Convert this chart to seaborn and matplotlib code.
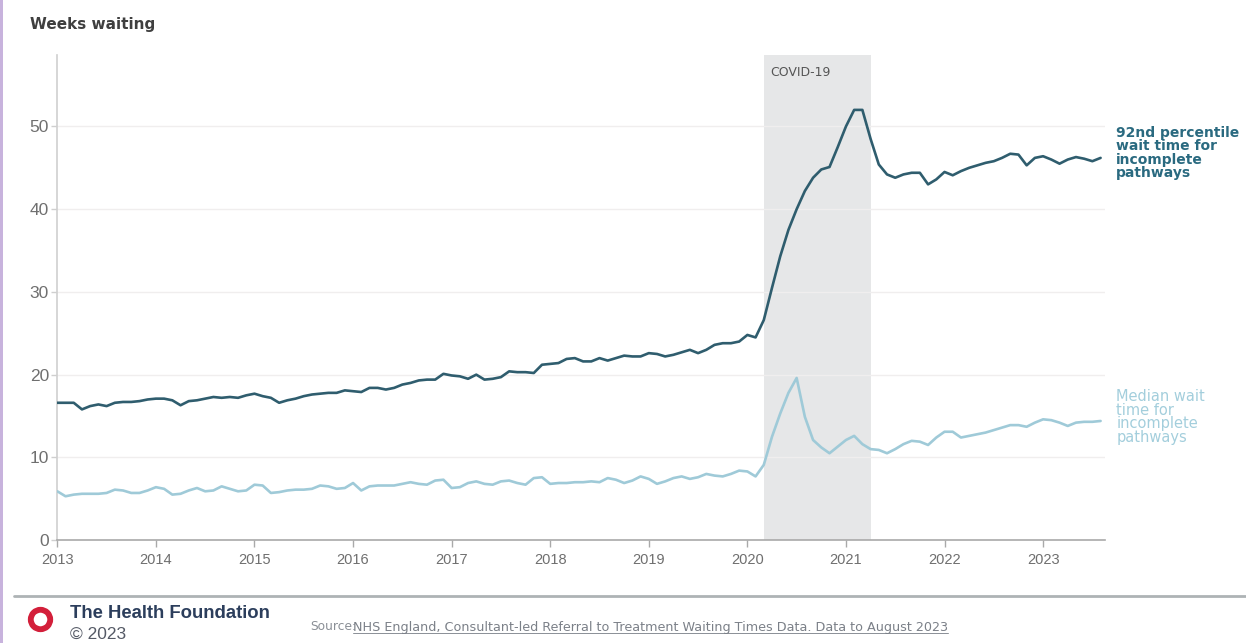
import numpy as np
import pandas as pd
import matplotlib
matplotlib.use("Agg")
import matplotlib.pyplot as plt
import seaborn as sns
from matplotlib.patches import Rectangle

# ---- data: monthly, Jan 2013 .. Aug 2023 ----
start_year = 2013
p92_weeks = [
    16.6, 16.6, 16.6, 15.8, 16.2, 16.4, 16.2, 16.6, 16.7, 16.7, 16.8, 17.0,   # 2013
    17.1, 17.1, 16.9, 16.3, 16.8, 16.9, 17.1, 17.3, 17.2, 17.3, 17.2, 17.5,   # 2014
    17.7, 17.4, 17.2, 16.6, 16.9, 17.1, 17.4, 17.6, 17.7, 17.8, 17.8, 18.1,   # 2015
    18.0, 17.9, 18.4, 18.4, 18.2, 18.4, 18.8, 19.0, 19.3, 19.4, 19.4, 20.1,   # 2016
    19.9, 19.8, 19.5, 20.0, 19.4, 19.5, 19.7, 20.4, 20.3, 20.3, 20.2, 21.2,   # 2017
    21.3, 21.4, 21.9, 22.0, 21.6, 21.6, 22.0, 21.7, 22.0, 22.3, 22.2, 22.2,   # 2018
    22.6, 22.5, 22.2, 22.4, 22.7, 23.0, 22.6, 23.0, 23.6, 23.8, 23.8, 24.0,   # 2019
    24.8, 24.5, 26.6, 30.5, 34.3, 37.5, 40.0, 42.2, 43.8, 44.8, 45.1, 47.5,   # 2020
    50.0, 52.0, 52.0, 48.5, 45.4, 44.2, 43.8, 44.2, 44.4, 44.4, 43.0, 43.6,   # 2021
    44.5, 44.1, 44.6, 45.0, 45.3, 45.6, 45.8, 46.2, 46.7, 46.6, 45.3, 46.2,   # 2022
    46.4, 46.0, 45.5, 46.0, 46.3, 46.1, 45.8, 46.2,                           # 2023
]
median_weeks = [
    5.9, 5.3, 5.5, 5.6, 5.6, 5.6, 5.7, 6.1, 6.0, 5.7, 5.7, 6.0,   # 2013
    6.4, 6.2, 5.5, 5.6, 6.0, 6.3, 5.9, 6.0, 6.5, 6.2, 5.9, 6.0,   # 2014
    6.7, 6.6, 5.7, 5.8, 6.0, 6.1, 6.1, 6.2, 6.6, 6.5, 6.2, 6.3,   # 2015
    6.9, 6.0, 6.5, 6.6, 6.6, 6.6, 6.8, 7.0, 6.8, 6.7, 7.2, 7.3,   # 2016
    6.3, 6.4, 6.9, 7.1, 6.8, 6.7, 7.1, 7.2, 6.9, 6.7, 7.5, 7.6,   # 2017
    6.8, 6.9, 6.9, 7.0, 7.0, 7.1, 7.0, 7.5, 7.3, 6.9, 7.2, 7.7,   # 2018
    7.4, 6.8, 7.1, 7.5, 7.7, 7.4, 7.6, 8.0, 7.8, 7.7, 8.0, 8.4,   # 2019
    8.3, 7.7, 9.1, 12.5, 15.3, 17.8, 19.6, 14.9, 12.1, 11.2, 10.5, 11.3,   # 2020
    12.1, 12.6, 11.6, 11.0, 10.9, 10.5, 11.0, 11.6, 12.0, 11.9, 11.5, 12.4,  # 2021
    13.1, 13.1, 12.4, 12.6, 12.8, 13.0, 13.3, 13.6, 13.9, 13.9, 13.7, 14.2,  # 2022
    14.6, 14.5, 14.2, 13.8, 14.2, 14.3, 14.3, 14.4,                          # 2023
]
p92_label = "92nd percentile\nwait time for\nincomplete\npathways"
median_label = "Median wait\ntime for\nincomplete\npathways"
year_ticks = list(range(2013, 2024))
y_ticks = [0, 10, 20, 30, 40, 50]
covid_start, covid_end = 2020 + 2 / 12, 2021 + 3 / 12

n = len(p92_weeks)
t = [start_year + i / 12 for i in range(n)]
df = pd.DataFrame({
    "t": t * 2,
    "weeks": p92_weeks + median_weeks,
    "series": ["p92"] * n + ["median"] * n,
})

# ---- styling ----
dark = "#2f5d6e"
light = "#9fcad8"
grey_txt = "#6f6f6f"

sns.set_theme(style="white")
plt.rcParams["font.family"] = ["Liberation Sans", "DejaVu Sans"]

fig = plt.figure(figsize=(12.46, 6.43), dpi=100)
ax = fig.add_axes([0.046, 0.160, 0.841, 0.754])

ax.axvspan(covid_start, covid_end, color="#e6e7e8", zorder=0, lw=0)
ax.text(covid_start + 0.07, 57.3, "COVID-19", fontsize=9, color="#555555",
        va="top", ha="left", family="DejaVu Sans")

sns.lineplot(data=df, x="t", y="weeks", hue="series",
             palette={"p92": dark, "median": light}, linewidth=1.9,
             legend=False, ax=ax, zorder=3)

ax.set_xlim(2013, 2023.63)
ax.set_ylim(0, 58.6)
ax.set_xticks(year_ticks)
ax.set_xticklabels([str(y) for y in year_ticks])
ax.set_yticks(y_ticks)
ax.set_xlabel("")
ax.set_ylabel("")
for yv in y_ticks[1:]:
    ax.axhline(yv, color="#f0eeee", lw=1, zorder=1)

for s in ["top", "right"]:
    ax.spines[s].set_visible(False)
ax.spines["left"].set_color("#cfcfcf")
ax.spines["left"].set_linewidth(1.2)
ax.spines["bottom"].set_color("#a9a9a9")
ax.spines["bottom"].set_linewidth(1.2)
ax.tick_params(axis="x", colors="#a9a9a9", labelcolor=grey_txt, labelsize=10.5,
               length=5, width=1, direction="out", bottom=True, pad=4)
ax.tick_params(axis="y", colors="#cfcfcf", labelcolor=grey_txt, labelsize=12.5,
               length=4, width=1, left=True, pad=2)

# series labels
ax.text(1.0105, (540 - 126) / 485, p92_label,
        transform=ax.transAxes, color="#2a6a80", fontsize=10, fontweight="bold",
        va="top", ha="left", linespacing=0.92, family="DejaVu Sans")
ax.text(1.0105, (540 - 389) / 485, median_label,
        transform=ax.transAxes, color="#a3cedc", fontsize=10.5,
        va="top", ha="left", linespacing=0.88, family="DejaVu Sans")

# header
fig.text(30 / 1246, 1 - 25 / 643, "Weeks waiting", fontsize=11, fontweight="bold",
         color="#3f3f3f", va="center", ha="left", family="DejaVu Sans")

# footer
fig.add_artist(plt.Line2D([14 / 1246, 1.0], [1 - 596 / 643, 1 - 596 / 643],
                          color="#aeb3b5", lw=2, transform=fig.transFigure))
fig.add_artist(Rectangle((0, 0), 3 / 1246, 1, transform=fig.transFigure,
                         color="#c8b3dd", lw=0))
fig.add_artist(plt.Line2D([40 / 1246], [1 - 619 / 643], marker="o", markersize=14,
                          markerfacecolor="white", markeredgecolor="#d31f3a",
                          markeredgewidth=4.2, transform=fig.transFigure))
fig.text(70 / 1246, 1 - 613 / 643, "The Health Foundation", fontsize=13.3,
         fontweight="bold", color="#2c3e5c", va="center", ha="left")
fig.text(70 / 1246, 1 - 634 / 643, "\u00a9 2023", fontsize=12.5,
         color="#555a66", va="center", ha="left")
fig.text(310 / 1246, 1 - 627 / 643, "Source:", fontsize=8.8,
         color="#8a8f96", va="center", ha="left", family="DejaVu Sans")
link = fig.text(353 / 1246, 1 - 627 / 643,
                "NHS England, Consultant-led Referral to Treatment Waiting Times Data. Data to August 2023",
                fontsize=9.2, color="#7b8088", va="center", ha="left", family="DejaVu Sans")
fig.canvas.draw()
bb = link.get_window_extent().transformed(fig.transFigure.inverted())
fig.add_artist(plt.Line2D([bb.x0, bb.x1], [bb.y0 + 0.001, bb.y0 + 0.001],
                          color="#8a8f96", lw=0.7, transform=fig.transFigure))

fig.savefig("out.png", dpi=100, facecolor="white")
